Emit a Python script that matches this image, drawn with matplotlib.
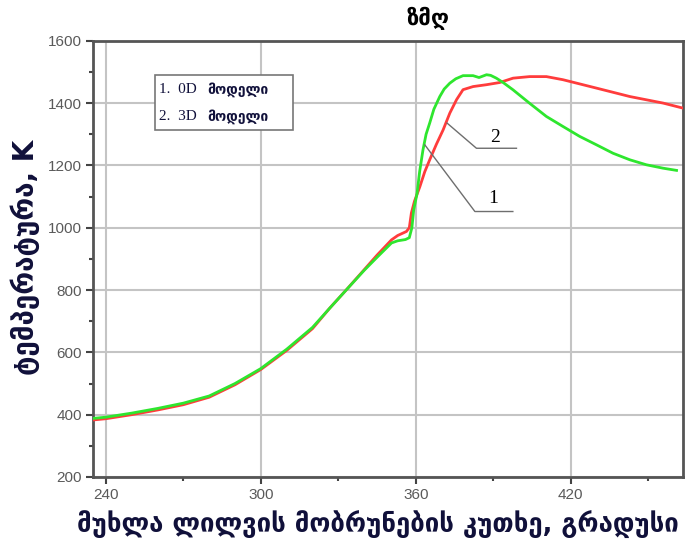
import matplotlib
matplotlib.use("Agg")
import matplotlib.pyplot as plt
from matplotlib.ticker import MultipleLocator

# Model 1 (0D) temperature, K, against crank angle, degrees
angle_0d = [235, 240, 250, 260, 270, 280, 290, 300, 310, 320, 326.7, 332.5, 340,
            345, 350.6, 353, 356.4, 357.5, 358.3, 359.5, 361.6, 363.5, 365.4, 368,
            370.6, 373.2, 375.8, 378.3, 382.2, 387.4, 392.5, 397.7, 404.1, 410.6,
            417, 430, 442.9, 455.8, 463.4]
temp_0d = [383, 387, 400, 415, 432, 456, 496, 545, 606, 676, 742, 795, 865,
           912, 961, 975, 988, 1000, 1047, 1085, 1132, 1180, 1218, 1268,
           1314, 1368, 1411, 1443, 1453, 1459, 1466, 1480, 1485, 1485,
           1475, 1448, 1421, 1400, 1384]

# Model 2 (3D) temperature, K, against crank angle, degrees
angle_3d = [235, 240, 250, 260, 270, 280, 290, 300, 310, 320, 326.7, 332.5, 340,
            345, 350.6, 353, 356, 357.5, 358.5, 359.2, 360.5, 361.5, 362.8, 364,
            365.4, 367, 369.3, 371, 373.2, 375.5, 378.3, 382.2, 384.5, 387.4,
            389, 391.2, 394, 397.6, 404, 410.6, 417, 423.5, 430, 436.4, 442.9,
            449.3, 455.8, 461]
temp_3d = [388, 392, 405, 420, 437, 460, 500, 548, 610, 680, 742, 795, 863,
           905, 951, 958, 962, 968, 1000, 1057, 1110, 1180, 1250, 1300,
           1336, 1380, 1421, 1445, 1464, 1478, 1488, 1488, 1482, 1491,
           1489, 1480, 1465, 1443, 1400, 1357, 1325, 1293, 1266, 1239, 1218,
           1202, 1191, 1184]

legend_lines = ["1.  0D", "2.  3D"]
model_word = "მოდელი"
title_text = "ზმღ"
x_label = "მუხლა ლილვის მობრუნების კუთხე, გრადუსი"
y_label = "ტემპერატურა, K"

x_ticks = [240, 300, 360, 420]
y_ticks = [200, 400, 600, 800, 1000, 1200, 1400, 1600]

fig = plt.figure(figsize=(6.92, 5.45), dpi=100)
ax = fig.add_axes([0.1344, 0.1248, 0.8526, 0.8004])

ax.plot(angle_0d, temp_0d, color="#ff3c3c", lw=2.0, zorder=3)
ax.plot(angle_3d, temp_3d, color="#2ee62e", lw=2.0, zorder=4)

ax.set_xlim(235, 463.5)
ax.set_ylim(200, 1600)
ax.set_xticks(x_ticks)
ax.set_yticks(y_ticks)
ax.xaxis.set_minor_locator(MultipleLocator(30))
ax.yaxis.set_minor_locator(MultipleLocator(100))
ax.grid(True, which="major", color="#c4c4c4", lw=1.5, zorder=0)
ax.tick_params(which="major", direction="out", length=5, width=1.5,
               color="#444444", labelsize=11, labelcolor="#5a5a5a", pad=3)
ax.tick_params(which="minor", direction="out", length=3, width=1.5,
               color="#444444")
for lab in ax.get_xticklabels() + ax.get_yticklabels():
    lab.set_family("Liberation Sans")
for sp in ax.spines.values():
    sp.set_color("#555555")
    sp.set_linewidth(2.0)

# Leader lines with curve numbers
ax.plot([372.1, 383.5, 399.0], [1336, 1255, 1255], color="#6e6e6e", lw=1.0, zorder=5)
ax.text(390.6, 1290, "2", fontsize=14, family="Liberation Serif",
        ha="center", va="center", zorder=6)
ax.plot([363.5, 382.9, 397.6], [1266, 1052, 1052], color="#6e6e6e", lw=1.0, zorder=5)
ax.text(389.9, 1095, "1", fontsize=14, family="Liberation Serif",
        ha="center", va="center", zorder=6)

# Legend box
box = plt.Rectangle((0.105, 0.795), 0.234, 0.127, transform=ax.transAxes,
                    facecolor="white", edgecolor="#777777", lw=1.2, zorder=7)
ax.add_patch(box)
for i, lbl in enumerate(legend_lines):
    yy = 0.888 - i * 0.062
    ax.text(0.112, yy, lbl, transform=ax.transAxes, fontsize=11,
            family="Liberation Serif", color="#10103a", va="center", zorder=8)
    ax.text(0.193, yy, model_word, transform=ax.transAxes, fontsize=10,
            family="DejaVu Sans", fontweight="bold", color="#10103a",
            va="center", zorder=8)

fig.text(0.618, 0.966, title_text, fontsize=16, fontweight="bold",
         family="DejaVu Sans", ha="center", va="center")
fig.text(0.546, 0.036, x_label, fontsize=18.5, fontweight="bold",
         family="DejaVu Sans", ha="center", va="center", color="#10103a")
fig.text(0.036, 0.527, y_label, fontsize=20, fontweight="bold",
         family="DejaVu Sans", ha="center", va="center", rotation=90,
         color="#10103a")

fig.savefig("out.png", dpi=100)
